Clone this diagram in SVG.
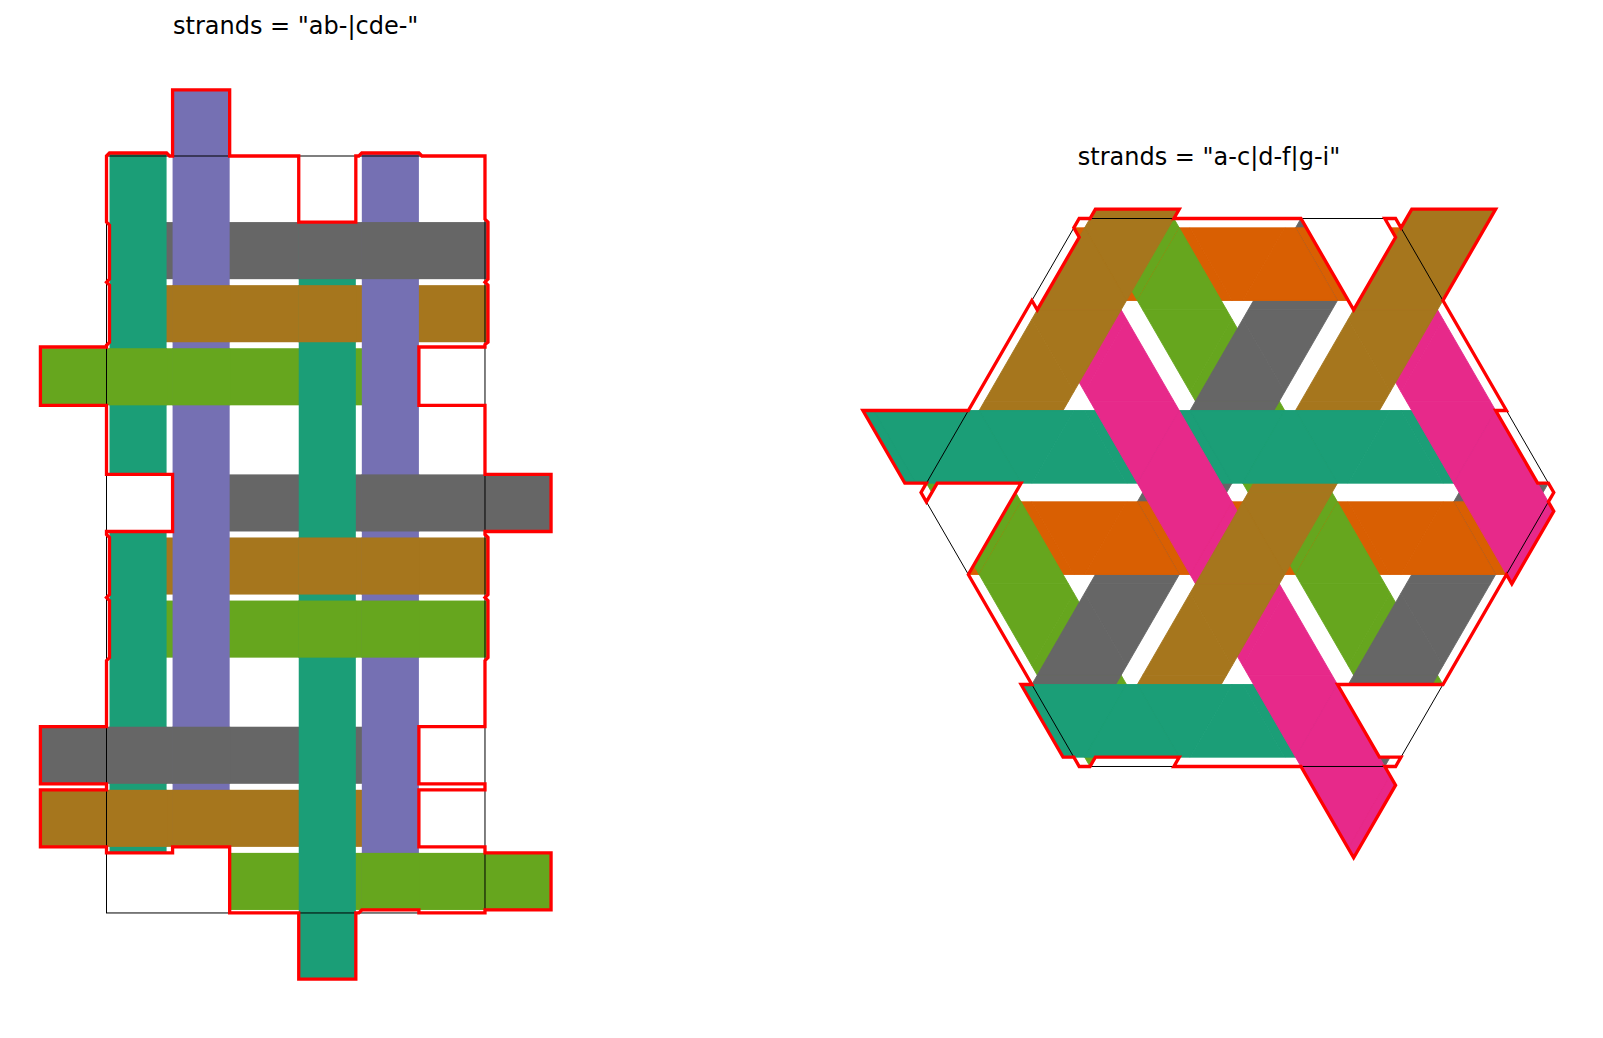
<svg xmlns="http://www.w3.org/2000/svg" width="1603" height="1038" viewBox="0 0 1603 1038">
<style>
.t{font-family:"DejaVu Sans",Verdana,sans-serif;font-size:24px;fill:#000;text-anchor:middle}
.ol{fill:none;stroke:#ff0000;stroke-width:3.3;stroke-linejoin:miter}
.bx{fill:none;stroke:#000;stroke-width:1}
.tl{fill:#1b9e77;color:#1b9e77}.pu{fill:#7570b3;color:#7570b3}.gy{fill:#666666;color:#666666}.br{fill:#a6761d;color:#a6761d}.gn{fill:#66a61e;color:#66a61e}.o{fill:#d95f02;color:#d95f02}.pk{fill:#e7298a;color:#e7298a}
</style>
<defs>
<polygon id="DH" stroke="currentColor" stroke-width="0.9" stroke-linejoin="round" points="5.4,9.35 100.06,9.35 58.13,81.98 47.33,81.98"/>
<polygon id="DA" stroke="currentColor" stroke-width="0.9" stroke-linejoin="round" points="10.8,0 94.66,0 47.33,81.98 5.4,9.35"/>
<polygon id="DB" stroke="currentColor" stroke-width="0.9" stroke-linejoin="round" points="10.8,0 94.66,0 100.06,9.35 58.13,81.98"/>
<polygon id="UH" stroke="currentColor" stroke-width="0.9" stroke-linejoin="round" points="47.33,-81.98 58.13,-81.98 100.06,-9.35 5.4,-9.35"/>
<polygon id="UA" stroke="currentColor" stroke-width="0.9" stroke-linejoin="round" points="10.8,0 94.66,0 100.06,-9.35 58.13,-81.98"/>
<polygon id="UB" stroke="currentColor" stroke-width="0.9" stroke-linejoin="round" points="10.8,0 94.66,0 47.33,-81.98 5.4,-9.35"/>
<clipPath id="cr"><polygon points="-158.19,-273.99 -147.39,-273.99 -142,-283.34 -58.13,-283.34 -63.52,-273.99 63.52,-273.99 116.26,-182.66 158.19,-255.29 147.39,-273.99 158.19,-273.99 163.59,-264.64 174.39,-283.34 258.26,-283.34 205.52,-192.01 269.05,-81.98 258.26,-81.98 300.19,-9.35 310.99,-9.35 316.38,0 310.99,9.35 316.38,18.7 274.45,91.33 269.05,81.98 205.53,192.01 100.06,192.01 142,264.64 163.59,264.64 158.19,273.99 147.4,273.99 158.19,292.69 116.26,365.32 63.53,273.99 -63.53,273.99 -58.13,264.64 -142,264.64 -147.4,273.99 -158.19,273.99 -163.59,264.64 -174.39,264.64 -216.33,192.01 -205.53,192.01 -269.05,81.98 -216.33,-9.35 -300.19,-9.35 -310.99,9.35 -316.38,0 -310.99,-9.35 -332.58,-9.35 -374.52,-81.98 -269.05,-81.98 -205.53,-192.01 -200.12,-182.66 -158.19,-255.29 -163.59,-264.64"/></clipPath>
</defs>
<rect width="1603" height="1038" fill="#fff"/>
<text class="t" x="295.7" y="34">strands = "ab-|cde-"</text>
<text class="t" x="1209" y="165">strands = "a-c|d-f|g-i"</text>
<g id="left-weave">
<g id="left-rows">
<rect class="gy" x="109.5" y="222.08" width="378.48" height="57.08"/>
<rect class="br" x="109.5" y="285.16" width="378.48" height="57.08"/>
<rect class="gn" x="40.42" y="348.24" width="378.48" height="57.08"/>
<rect class="gy" x="172.58" y="474.4" width="378.48" height="57.08"/>
<rect class="br" x="109.5" y="537.48" width="378.48" height="57.08"/>
<rect class="gn" x="109.5" y="600.56" width="378.48" height="57.08"/>
<rect class="gy" x="40.42" y="726.72" width="378.48" height="57.08"/>
<rect class="br" x="40.42" y="789.8" width="378.48" height="57.08"/>
<rect class="gn" x="229.66" y="852.88" width="321.4" height="57.08"/>
</g>
<g id="left-cols">
<rect class="tl" x="109.5" y="153" width="57.08" height="321.4"/>
<rect class="tl" x="109.5" y="531.48" width="57.08" height="321.4"/>
<rect class="pu" x="172.58" y="89.92" width="57.08" height="756.96"/>
<rect class="tl" x="298.74" y="222.08" width="57.08" height="756.96"/>
<rect class="pu" x="361.82" y="153" width="57.08" height="756.96"/>
</g>
<g id="left-over">
<rect class="gy" x="298.24" y="222.08" width="58.08" height="57.08"/>
<rect class="gy" x="361.32" y="222.08" width="58.08" height="57.08"/>
<rect class="br" x="172.08" y="285.16" width="58.08" height="57.08"/>
<rect class="br" x="298.24" y="285.16" width="58.08" height="57.08"/>
<rect class="gn" x="109" y="348.24" width="58.08" height="57.08"/>
<rect class="gn" x="172.08" y="348.24" width="58.08" height="57.08"/>
<rect class="gy" x="361.32" y="474.4" width="58.08" height="57.08"/>
<rect class="br" x="298.24" y="537.48" width="58.08" height="57.08"/>
<rect class="br" x="361.32" y="537.48" width="58.08" height="57.08"/>
<rect class="gn" x="298.24" y="600.56" width="58.08" height="57.08"/>
<rect class="gn" x="361.32" y="600.56" width="58.08" height="57.08"/>
<rect class="gy" x="109" y="726.72" width="58.08" height="57.08"/>
<rect class="gy" x="172.08" y="726.72" width="58.08" height="57.08"/>
<rect class="br" x="109" y="789.8" width="58.08" height="57.08"/>
<rect class="br" x="172.08" y="789.8" width="58.08" height="57.08"/>
<rect class="gn" x="361.32" y="852.88" width="58.08" height="57.08"/>
</g>
<rect class="bx" x="106.5" y="156" width="378.48" height="756.96"/>
<polygon class="ol" points="106.5,222.08 106.5,156 109.5,153 166.58,153 169.58,156 172.58,156 172.58,89.92 229.66,89.92 229.66,156 298.74,156 298.74,222.08 355.82,222.08 355.82,156 358.82,156 361.82,153 418.9,153 421.9,156 484.98,156 484.98,219.08 487.98,222.08 487.98,279.16 484.98,282.16 487.98,285.16 487.98,342.24 484.98,344.5 484.98,347 418.9,347 418.9,405.32 484.98,405.32 484.98,474.4 551.06,474.4 551.06,531.48 484.98,531.48 484.98,534.48 487.98,537.48 487.98,594.56 484.98,597.56 487.98,600.56 487.98,657.64 484.98,660.64 484.98,726.72 418.9,726.72 418.9,783.8 484.98,783.8 484.98,789.8 418.9,789.8 418.9,846.88 484.98,846.88 484.98,852.88 551.06,852.88 551.06,909.96 484.98,909.96 484.98,912.96 418.9,912.96 418.9,909.96 361.82,909.96 358.82,912.96 355.82,912.96 355.82,979.04 298.74,979.04 298.74,912.96 229.66,912.96 229.66,846.88 172.58,846.88 172.58,852.88 106.5,852.88 106.5,846.88 40.42,846.88 40.42,789.8 106.5,789.8 106.5,783.8 40.42,783.8 40.42,726.72 106.5,726.72 106.5,660.64 109.5,657.64 109.5,600.56 106.5,597.56 109.5,594.56 109.5,537.48 106.5,534.48 106.5,531.48 172.58,531.48 172.58,474.4 106.5,474.4 106.5,405.32 40.42,405.32 40.42,347 106.5,347 106.5,345.24 109.5,342.24 109.5,285.16 106.5,282.16 109.5,279.16 109.5,225.08"/>
</g>
<g id="right-weave" transform="translate(1237.4,492.5)">
<g clip-path="url(#cr)">
<g id="pass1">
<use href="#DH" x="-158.19" y="-273.99" class="o"/><use href="#DA" x="52.73" y="-273.99" class="gy"/><use href="#UH" x="-210.92" y="-182.66" class="o"/><use href="#UH" x="105.46" y="-182.66" class="o"/><use href="#DB" x="-52.73" y="-91.33" class="gn"/><use href="#UB" x="-316.38" y="0" class="gn"/><use href="#UA" x="-105.46" y="0" class="gy"/><use href="#UB" x="0" y="0" class="gn"/><use href="#UA" x="210.92" y="0" class="gy"/><use href="#DH" x="-316.38" y="0" class="o"/><use href="#DA" x="-105.46" y="0" class="gy"/><use href="#DH" x="0" y="0" class="o"/><use href="#DA" x="210.92" y="0" class="gy"/><use href="#UH" x="-52.73" y="91.33" class="o"/><use href="#DB" x="-210.92" y="182.66" class="gn"/><use href="#DB" x="105.46" y="182.66" class="gn"/><use href="#UB" x="-158.19" y="273.99" class="gn"/><use href="#UA" x="52.73" y="273.99" class="gy"/><use href="#DH" x="158.19" y="-273.99" class="o"/><use href="#DB" x="-369.11" y="-91.33" class="gn"/><use href="#DA" x="52.73" y="273.99" class="gy"/>
</g>
<g id="pass2">
<use href="#DB" x="-158.19" y="-273.99" class="gn"/><use href="#DH" x="52.73" y="-273.99" class="o"/><use href="#UB" x="-210.92" y="-182.66" class="pk"/><use href="#UH" x="-105.46" y="-182.66" class="o"/><use href="#UA" x="0" y="-182.66" class="gy"/><use href="#UB" x="105.46" y="-182.66" class="pk"/><use href="#DB" x="-210.92" y="-182.66" class="pk"/><use href="#DB" x="105.46" y="-182.66" class="pk"/><use href="#UB" x="-52.73" y="-91.33" class="gn"/><use href="#DA" x="-263.65" y="-91.33" class="br"/><use href="#DH" x="-158.19" y="-91.33" class="tl"/><use href="#DA" x="-52.73" y="-91.33" class="gy"/><use href="#DA" x="52.73" y="-91.33" class="br"/><use href="#DH" x="158.19" y="-91.33" class="tl"/><use href="#UA" x="-316.38" y="0" class="br"/><use href="#UH" x="-105.46" y="0" class="tl"/><use href="#UA" x="0" y="0" class="br"/><use href="#UH" x="210.92" y="0" class="tl"/><use href="#DB" x="-316.38" y="0" class="gn"/><use href="#DH" x="-105.46" y="0" class="o"/><use href="#DB" x="0" y="0" class="gn"/><use href="#DH" x="210.92" y="0" class="o"/><use href="#UH" x="-263.65" y="91.33" class="o"/><use href="#UA" x="-158.19" y="91.33" class="gy"/><use href="#UB" x="-52.73" y="91.33" class="pk"/><use href="#UH" x="52.73" y="91.33" class="o"/><use href="#UA" x="158.19" y="91.33" class="gy"/><use href="#DB" x="-52.73" y="91.33" class="pk"/><use href="#UB" x="-210.92" y="182.66" class="gn"/><use href="#UB" x="105.46" y="182.66" class="gn"/><use href="#DA" x="-210.92" y="182.66" class="gy"/><use href="#DA" x="-105.46" y="182.66" class="br"/><use href="#DH" x="0" y="182.66" class="tl"/><use href="#DA" x="105.46" y="182.66" class="gy"/><use href="#UA" x="-158.19" y="273.99" class="br"/><use href="#UH" x="52.73" y="273.99" class="tl"/><use href="#UB" x="-158.19" y="-273.99" class="gn"/><use href="#DB" x="158.19" y="-273.99" class="gn"/><use href="#UB" x="158.19" y="-273.99" class="gn"/><use href="#DA" x="-369.11" y="-91.33" class="gy"/><use href="#UA" x="-421.84" y="0" class="gy"/><use href="#DH" x="52.73" y="273.99" class="o"/><use href="#UH" x="105.46" y="365.32" class="o"/><use href="#UH" x="263.65" y="91.33" class="o"/><use href="#UA" x="-263.65" y="273.99" class="gy"/>
</g>
<g id="pass3">
<use href="#DA" x="-158.19" y="-273.99" class="br"/><use href="#DH" x="-52.73" y="-273.99" class="o"/><use href="#DB" x="52.73" y="-273.99" class="pk"/><use href="#UA" x="-210.92" y="-182.66" class="br"/><use href="#UB" x="-105.46" y="-182.66" class="gn"/><use href="#UH" x="0" y="-182.66" class="o"/><use href="#UA" x="105.46" y="-182.66" class="br"/><use href="#DA" x="-210.92" y="-182.66" class="br"/><use href="#DB" x="-105.46" y="-182.66" class="gn"/><use href="#DA" x="0" y="-182.66" class="gy"/><use href="#DA" x="105.46" y="-182.66" class="br"/><use href="#UA" x="-263.65" y="-91.33" class="br"/><use href="#UB" x="-158.19" y="-91.33" class="pk"/><use href="#UA" x="-52.73" y="-91.33" class="gy"/><use href="#UA" x="52.73" y="-91.33" class="br"/><use href="#UB" x="158.19" y="-91.33" class="pk"/><use href="#DH" x="-263.65" y="-91.33" class="tl"/><use href="#DB" x="-158.19" y="-91.33" class="pk"/><use href="#DH" x="-52.73" y="-91.33" class="tl"/><use href="#DH" x="52.73" y="-91.33" class="tl"/><use href="#DB" x="158.19" y="-91.33" class="pk"/><use href="#UH" x="-316.38" y="0" class="tl"/><use href="#UH" x="-210.92" y="0" class="tl"/><use href="#UB" x="-105.46" y="0" class="pk"/><use href="#UH" x="0" y="0" class="tl"/><use href="#UH" x="105.46" y="0" class="tl"/><use href="#UB" x="210.92" y="0" class="pk"/><use href="#DA" x="-316.38" y="0" class="br"/><use href="#DH" x="-210.92" y="0" class="o"/><use href="#DB" x="-105.46" y="0" class="pk"/><use href="#DA" x="0" y="0" class="br"/><use href="#DH" x="105.46" y="0" class="o"/><use href="#DB" x="210.92" y="0" class="pk"/><use href="#UB" x="-263.65" y="91.33" class="gn"/><use href="#UH" x="-158.19" y="91.33" class="o"/><use href="#UA" x="-52.73" y="91.33" class="br"/><use href="#UB" x="52.73" y="91.33" class="gn"/><use href="#UH" x="158.19" y="91.33" class="o"/><use href="#DB" x="-263.65" y="91.33" class="gn"/><use href="#DA" x="-158.19" y="91.33" class="gy"/><use href="#DA" x="-52.73" y="91.33" class="br"/><use href="#DB" x="52.73" y="91.33" class="gn"/><use href="#DA" x="158.19" y="91.33" class="gy"/><use href="#UA" x="-210.92" y="182.66" class="gy"/><use href="#UA" x="-105.46" y="182.66" class="br"/><use href="#UB" x="0" y="182.66" class="pk"/><use href="#UA" x="105.46" y="182.66" class="gy"/><use href="#DH" x="-210.92" y="182.66" class="tl"/><use href="#DH" x="-105.46" y="182.66" class="tl"/><use href="#DB" x="0" y="182.66" class="pk"/><use href="#DH" x="105.46" y="182.66" class="tl"/><use href="#UH" x="-158.19" y="273.99" class="tl"/><use href="#UH" x="-52.73" y="273.99" class="tl"/><use href="#UB" x="52.73" y="273.99" class="pk"/><use href="#UA" x="-158.19" y="-273.99" class="br"/><use href="#DA" x="158.19" y="-273.99" class="br"/><use href="#UA" x="158.19" y="-273.99" class="br"/><use href="#DH" x="-369.11" y="-91.33" class="tl"/><use href="#UH" x="-421.84" y="0" class="tl"/><use href="#DB" x="52.73" y="273.99" class="pk"/><use href="#UB" x="105.46" y="365.32" class="pk"/><use href="#UB" x="263.65" y="91.33" class="pk"/><use href="#UH" x="-263.65" y="273.99" class="tl"/>
</g>
</g>
<polygon class="bx" points="-158.19,-273.99 158.19,-273.99 316.38,0 158.19,273.99 -158.19,273.99 -316.38,0"/>
<polygon class="ol" points="-158.19,-273.99 -147.39,-273.99 -142,-283.34 -58.13,-283.34 -63.52,-273.99 63.52,-273.99 116.26,-182.66 158.19,-255.29 147.39,-273.99 158.19,-273.99 163.59,-264.64 174.39,-283.34 258.26,-283.34 205.52,-192.01 269.05,-81.98 258.26,-81.98 300.19,-9.35 310.99,-9.35 316.38,0 310.99,9.35 316.38,18.7 274.45,91.33 269.05,81.98 205.53,192.01 100.06,192.01 142,264.64 163.59,264.64 158.19,273.99 147.4,273.99 158.19,292.69 116.26,365.32 63.53,273.99 -63.53,273.99 -58.13,264.64 -142,264.64 -147.4,273.99 -158.19,273.99 -163.59,264.64 -174.39,264.64 -216.33,192.01 -205.53,192.01 -269.05,81.98 -216.33,-9.35 -300.19,-9.35 -310.99,9.35 -316.38,0 -310.99,-9.35 -332.58,-9.35 -374.52,-81.98 -269.05,-81.98 -205.53,-192.01 -200.12,-182.66 -158.19,-255.29 -163.59,-264.64"/>
</g>
</svg>
